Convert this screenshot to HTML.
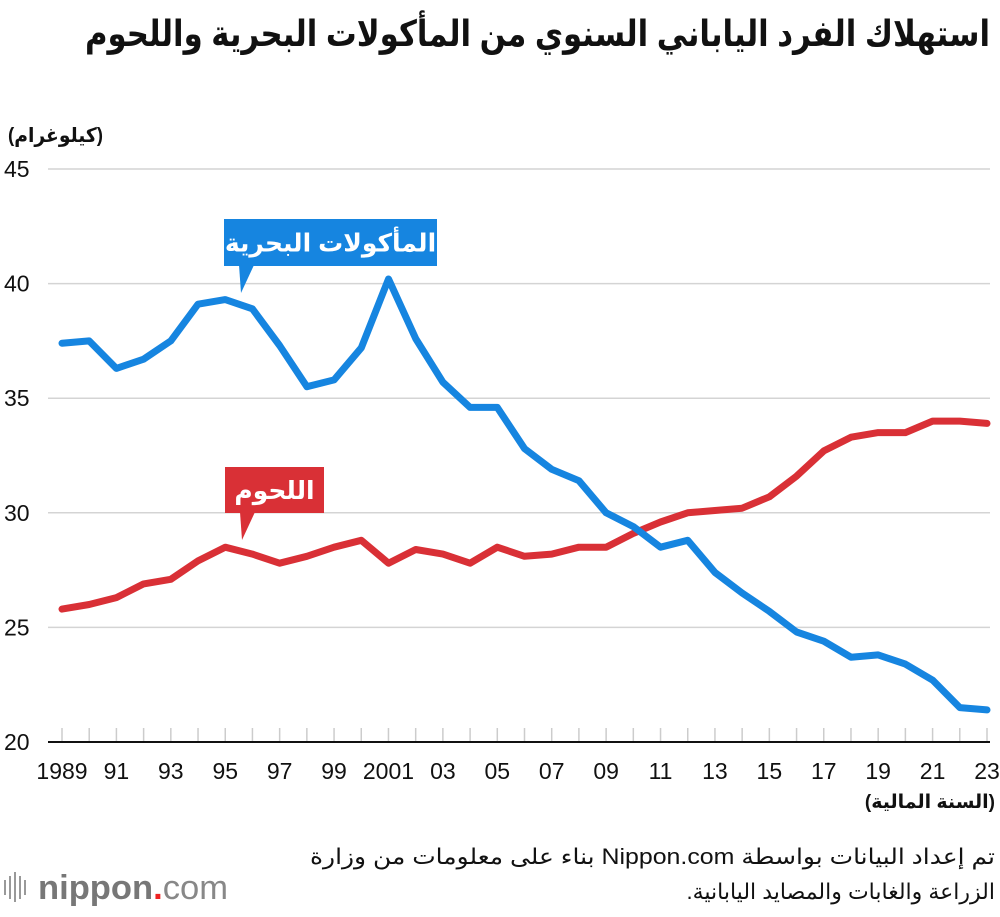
<!DOCTYPE html>
<html><head><meta charset="utf-8"><style>
body{margin:0;background:#fff;width:1000px;height:912px;overflow:hidden;font-family:"Liberation Sans","Noto Sans CJK SC",sans-serif}
svg text{font-family:"Liberation Sans","DejaVu Sans",sans-serif}
</style></head><body>
<svg id="c" width="1000" height="912">
<text x="990" y="46" text-anchor="start" font-size="36" font-weight="bold" fill="#111" direction="rtl" textLength="905" lengthAdjust="spacingAndGlyphs">استهلاك الفرد الياباني السنوي من المأكولات البحرية واللحوم</text>
<text x="103" y="142" text-anchor="start" font-size="20" font-weight="bold" fill="#111" direction="rtl" textLength="95" lengthAdjust="spacingAndGlyphs">(كيلوغرام)</text>
<text x="995" y="808" text-anchor="start" font-size="19" font-weight="bold" fill="#111" direction="rtl">(السنة المالية)</text>
<text x="995" y="864" text-anchor="start" font-size="22" fill="#111" direction="rtl" textLength="685" lengthAdjust="spacingAndGlyphs">تم إعداد البيانات بواسطة Nippon.com بناء على معلومات من وزارة</text>
<text x="995" y="899" text-anchor="start" font-size="22" fill="#111" direction="rtl">الزراعة والغابات والمصايد اليابانية.</text>
<g>
<g stroke="#999" stroke-width="2"><line x1="5" y1="880" x2="5" y2="895"/><line x1="10" y1="876" x2="10" y2="899"/><line x1="15" y1="872" x2="15" y2="902"/><line x1="20" y1="876" x2="20" y2="899"/><line x1="25" y1="880" x2="25" y2="895"/></g>
<text x="38" y="899" font-size="34" font-weight="bold" fill="#777" textLength="190" lengthAdjust="spacingAndGlyphs">nippon<tspan fill="#e22">.</tspan><tspan font-weight="normal" fill="#888">com</tspan></text>
</g>
<g id="grid"></g><g id="ticks"></g><g id="lines"></g><g id="callouts"></g>
</svg>
<script>
const years=[1989,1990,1991,1992,1993,1994,1995,1996,1997,1998,1999,2000,2001,2002,2003,2004,2005,2006,2007,2008,2009,2010,2011,2012,2013,2014,2015,2016,2017,2018,2019,2020,2021,2022,2023];
const seafood=[37.4,37.5,36.3,36.7,37.5,39.1,39.3,38.9,37.3,35.5,35.8,37.2,40.2,37.6,35.7,34.6,34.6,32.8,31.9,31.4,30.0,29.4,28.5,28.8,27.4,26.5,25.7,24.8,24.4,23.7,23.8,23.4,22.7,21.5,21.4];
const meat=[25.8,26.0,26.3,26.9,27.1,27.9,28.5,28.2,27.8,28.1,28.5,28.8,27.8,28.4,28.2,27.8,28.5,28.1,28.2,28.5,28.5,29.1,29.6,30.0,30.1,30.2,30.7,31.6,32.7,33.3,33.5,33.5,34.0,34.0,33.9];
const yTicks=[20,25,30,35,40,45];
const xLabelYears=[1989,1991,1993,1995,1997,1999,2001,2003,2005,2007,2009,2011,2013,2015,2017,2019,2021,2023];
const NS='http://www.w3.org/2000/svg';
const x=y=>62+(y-1989)*(987-62)/34;
const yv=v=>742-(v-20)*(742-169)/25;
function mk(t,a,p){const e=document.createElementNS(NS,t);for(const k in a)e.setAttribute(k,a[k]);p.appendChild(e);return e;}
const grid=document.getElementById('grid'),ticks=document.getElementById('ticks'),lines=document.getElementById('lines');
yTicks.forEach(v=>{
 if(v>20){const l=mk('line',{x1:48,x2:990,y1:yv(v),y2:yv(v),stroke:'#d4d4d4','stroke-width':1.5},grid);
 
 }
 const t=mk('text',{x:4,y:yv(v)+8,'font-size':23,fill:'#111'},grid);t.textContent=v;
 
 
});
years.forEach(yr=>{const l=mk('line',{x1:x(yr),x2:x(yr),y1:728,y2:742,stroke:'#ccc','stroke-width':1.5},ticks);
 
 });
const ax=mk('line',{x1:48,x2:990,y1:742,y2:742,stroke:'#111','stroke-width':2},ticks);


xLabelYears.forEach(yr=>{const lab=yr===1989||yr===2001?String(yr):String(yr%100).padStart(2,'0');
 const t=mk('text',{x:x(yr),y:779,'font-size':23,fill:'#111','text-anchor':'middle'},ticks);t.textContent=lab;
 
 });
function series(arr,color,name){const d=arr.map((v,i)=>(i?'L':'M')+x(years[i]).toFixed(1)+','+yv(v).toFixed(1)).join('');
 const p=mk('path',{d:d,fill:'none',stroke:color,'stroke-width':7,'stroke-linejoin':'round','stroke-linecap':'round'},lines);
 
 }
series(meat,'#d93036','meat-line');
series(seafood,'#1685e0','seafood-line');
const cg=document.getElementById('callouts');
function callout(x0,y0,w,h,color,label,name){
 const g=mk('g',{},cg);
 
 
 mk('rect',{x:x0,y:y0,width:w,height:h,fill:color},g);
 mk('path',{d:`M${x0+15},${y0+h-1}L${x0+30},${y0+h-1}L${x0+17},${y0+h+27}Z`,fill:color},g);
 const t=mk('text',{x:x0+w/2,y:y0+h/2+9,'text-anchor':'middle','font-size':25,'font-weight':'bold',fill:'#fff',direction:'rtl'},g);t.textContent=label;
}
callout(224,219,213,47,'#1685e0','المأكولات البحرية','seafood-label');
callout(225,467,99,46,'#d93036','اللحوم','meat-label');
</script>
</body></html>
